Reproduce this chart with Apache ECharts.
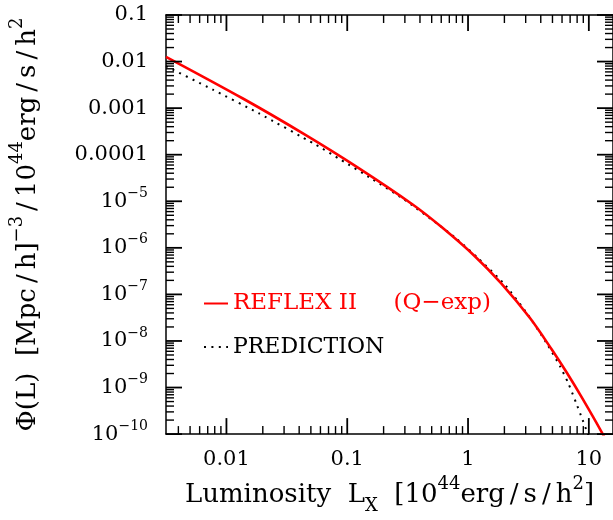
<!DOCTYPE html>
<html>
<head>
<meta charset="utf-8">
<script src="https://cdn.jsdelivr.net/npm/echarts@6/dist/echarts.min.js"></script>
<style>
html, body { margin: 0; padding: 0; background: #fff; }
#chart { width: 613px; height: 520px; }
</style>
</head>
<body>
<div id="chart"></div>
<script>
const FONT = 'DejaVu Serif';

// REFLEX II luminosity function (Q-exp fit)
const reflexName = 'REFLEX II     (Q\u2212exp)';
const reflexL   = [0.00316, 0.01368, 0.0447, 0.1208, 0.348, 0.611, 1.138, 1.874, 3.28, 4.92, 6.52, 8.89, 12.9, 15.5];
const reflexPhi = [1.265e-2, 1.61e-3, 2.70e-4, 5.42e-5, 8.53e-6, 2.72e-6, 6.61e-7, 1.74e-7, 3.03e-8, 6.64e-9, 2.15e-9, 5.71e-10, 1.05e-10, 4.05e-11];

// model prediction
const predName = 'PREDICTION';
const predL   = [0.00316, 0.0077, 0.01845, 0.0548, 0.0887, 0.160, 0.289, 0.574, 0.807, 1.213, 1.99, 3.08, 4.49, 5.75, 6.71, 7.85, 8.89, 9.75, 10.0];
const predPhi = [7.96e-3, 2.50e-3, 7.78e-4, 1.64e-4, 7.74e-5, 3.03e-5, 1.14e-5, 3.09e-6, 1.55e-6, 5.96e-7, 1.68e-7, 3.90e-8, 8.79e-9, 2.92e-9, 1.29e-9, 4.68e-10, 2.0e-10, 1.05e-10, 8.9e-11];

// axis ranges (data units) and labelled ticks
const xRange = [0.00316, 15.85];
const yRange = [1e-10, 0.1];
const xTickValues = [0.01, 0.1, 1, 10];
const xTickLabels = ['0.01', '0.1', '1', '10'];
const yTickValues = [1e-10, 1e-9, 1e-8, 1e-7, 1e-6, 1e-5, 1e-4, 1e-3, 1e-2, 1e-1];
const yTickLabels = ['10{s|\u221210}', '10{s|\u22129}', '10{s|\u22128}', '10{s|\u22127}', '10{s|\u22126}',
                     '10{s|\u22125}', '0.0001', '0.001', '0.01', '0.1'];

const xTitle = 'Luminosity  L{sub|X}  [10{sup|44}erg{sl|/}s{sl|/}h{sup|2}]';
const yTitle = '\u03a6(L)  [Mpc{sl|/}h]{sup|\u22123}{sl|/}10{sup|44}erg{sl|/}s{sl|/}h{sup|2}';

// both axes are logarithmic: positions are worked out in decades
const lg = Math.log10;
const xLo = lg(xRange[0]), xHi = lg(xRange[1]);
const yLo = lg(yRange[0]), yHi = lg(yRange[1]);
const xMajor = xTickValues.map(lg);
const yMajor = yTickValues.map(lg);

function minorTicks(lo, hi) {
  const out = [];
  for (let d = Math.floor(lo); d < Math.ceil(hi); d++) {
    for (let k = 2; k <= 9; k++) {
      const v = d + lg(k);
      if (v > lo && v < hi) out.push(v);
    }
  }
  return out;
}
const xMinor = minorTicks(xLo, xHi);
const yMinor = minorTicks(yLo, yHi);

const GRID = { left: 158, top: 13.5, width: 456, height: 425.8 };
const MAJOR_LEN = 16, MINOR_LEN = 8;   // tick lengths in pixels

function labelFor(values, labels) {
  return function (v) {
    const i = values.findIndex(m => Math.abs(m - v) < 1e-6);
    return i >= 0 ? labels[i] : '';
  };
}

const black = '#000';
const TITLE_SIZE = 26, TITLE_LH = 40;
const titleStyle = {
  fontFamily: FONT, fontSize: TITLE_SIZE, color: black, lineHeight: TITLE_LH,
  rich: {
    sup: { fontFamily: FONT, fontSize: 18, color: black, lineHeight: 29, verticalAlign: 'top' },
    sub: { fontFamily: FONT, fontSize: 18, color: black, lineHeight: 22, verticalAlign: 'bottom' },
    sl:  { fontFamily: FONT, fontSize: TITLE_SIZE, color: black, lineHeight: TITLE_LH, padding: [0, 5] }
  }
};

function frameAxis(pos, lo, hi, extra) {
  return Object.assign({
    type: 'value', position: pos, min: lo, max: hi,
    splitLine: { show: false },
    axisLine: { show: true, onZero: false, lineStyle: { color: black, width: 1.5 } },
    axisTick: { show: false },
    axisLabel: { show: false },
    axisPointer: { show: false }
  }, extra || {});
}

const xAxes = [
  frameAxis('bottom', xLo, xHi, {
    axisLabel: {
      show: true, customValues: xMajor, formatter: labelFor(xMajor, xTickLabels),
      fontFamily: FONT, fontSize: 21, color: black, margin: 15
    },
    name: xTitle, nameLocation: 'middle', nameGap: 31, nameTextStyle: titleStyle
  }),
  frameAxis('top', xLo, xHi)
];

const yAxes = [
  frameAxis('left', yLo, yHi, {
    axisLabel: {
      show: true, customValues: yMajor, formatter: labelFor(yMajor, yTickLabels),
      fontFamily: FONT, fontSize: 21, color: black, margin: 18, lineHeight: 30,
      rich: { s: { fontFamily: FONT, fontSize: 14, color: black, lineHeight: 16, verticalAlign: 'top' } }
    },
    name: yTitle, nameLocation: 'middle', nameRotate: 90, nameGap: 118, nameTextStyle: titleStyle
  }),
  frameAxis('right', yLo, yHi)
];

function toDecades(xs, ys) {
  return xs.map((x, i) => [lg(x), lg(ys[i])]);
}

const chart = echarts.init(document.getElementById('chart'), null, { renderer: 'canvas' });
chart.setOption({
  animation: false,
  backgroundColor: '#fff',
  grid: Object.assign({ containLabel: false }, GRID),
  xAxis: xAxes,
  yAxis: yAxes,
  legend: {
    left: 203, top: 292, orient: 'vertical', padding: 0,
    itemWidth: 24, itemHeight: 12, itemGap: 21,
    selectedMode: false,
    itemStyle: { opacity: 0 },
    textStyle: { fontFamily: FONT, fontSize: 22, lineHeight: 22 },
    data: [
      { name: reflexName, textStyle: { color: '#ff0000', fontSize: 23 } },
      { name: predName, textStyle: { color: black, fontSize: 22 } }
    ]
  },
  series: [
    {
      name: predName, type: 'line', xAxisIndex: 0, yAxisIndex: 0,
      data: toDecades(predL, predPhi),
      symbol: 'none', smooth: 0.2, clip: true,
      itemStyle: { color: black },
      lineStyle: { color: black, width: 2, type: [2, 5.4] },
      z: 3
    },
    {
      name: reflexName, type: 'line', xAxisIndex: 0, yAxisIndex: 0,
      data: toDecades(reflexL, reflexPhi),
      symbol: 'none', smooth: 0.3, clip: true,
      itemStyle: { color: '#ff0000' },
      lineStyle: { color: '#ff0000', width: 2.6 },
      z: 4
    }
  ]
});

// inward tick marks on all four sides of the frame, positioned by the grid's axes
const tickEls = [];
const majorStyle = { stroke: black, lineWidth: 1.8 };
const minorStyle = { stroke: black, lineWidth: 1.4 };
function px(x, y) { return chart.convertToPixel({ xAxisIndex: 0, yAxisIndex: 0 }, [x, y]); }
function addX(v, len, style) {
  const b = px(v, yLo), t = px(v, yHi);
  if (!b || !t) return;
  tickEls.push({ type: 'line', z: 100, silent: true, shape: { x1: b[0], y1: b[1], x2: b[0], y2: b[1] - len }, style: style });
  tickEls.push({ type: 'line', z: 100, silent: true, shape: { x1: t[0], y1: t[1], x2: t[0], y2: t[1] + len }, style: style });
}
function addY(v, len, style) {
  const l = px(xLo, v), r = px(xHi, v);
  if (!l || !r) return;
  tickEls.push({ type: 'line', z: 100, silent: true, shape: { x1: l[0], y1: l[1], x2: l[0] + len, y2: l[1] }, style: style });
  tickEls.push({ type: 'line', z: 100, silent: true, shape: { x1: r[0], y1: r[1], x2: r[0] - len, y2: r[1] }, style: style });
}
try {
  xMajor.forEach(v => addX(v, MAJOR_LEN, majorStyle));
  xMinor.forEach(v => addX(v, MINOR_LEN, minorStyle));
  yMajor.forEach(v => addY(v, MAJOR_LEN, majorStyle));
  yMinor.forEach(v => addY(v, MINOR_LEN, minorStyle));
} catch (e) { /* leave the frame without ticks */ }
chart.setOption({ graphic: tickEls });
</script>
</body>
</html>
